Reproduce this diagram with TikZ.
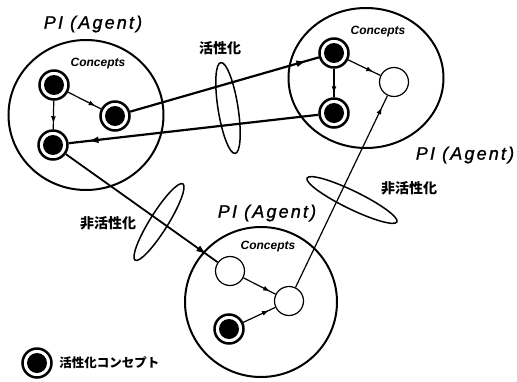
\documentclass[tikz,border=0pt]{standalone}
\usepackage{fontspec}
\setmainfont{Liberation Sans}
\newfontfamily\jpfont{Noto Sans CJK JP}
\newfontfamily\agentfont[LetterSpace=12,FakeBold=1.2]{Liberation Sans}
\usetikzlibrary{positioning}
\usetikzlibrary{arrows.meta}
\usetikzlibrary{decorations.markings}

\tikzset{
  actnode/.style={circle, draw, line width=2.5pt, minimum size=29pt, inner sep=0pt,
    path picture={\fill (path picture bounding box.center) circle (10pt);}},
  idlenode/.style={circle, draw, line width=1.2pt, minimum size=29pt, inner sep=0pt},
  agentlabel/.style={font=\agentfont\itshape\fontsize{18}{20}\selectfont},
  conceptlabel/.style={font=\bfseries\itshape\fontsize{12}{14}\selectfont},
  jplabel/.style={font=\jpfont\bfseries\fontsize{14}{16}\selectfont},
  tipat/.style={postaction={decorate}, decoration={markings,
    mark=at position #1 with {\arrow{Latex[length=7pt,width=5pt]}}}},
  bigtipat/.style={postaction={decorate}, decoration={markings,
    mark=at position #1 with {\arrow{Latex[length=10pt,width=7pt]}}}},
}

\begin{document}
\begin{tikzpicture}[x=1pt, y=-1pt]
    \useasboundingbox (0,0) rectangle (517,381);

    % Agents
    \draw[line width=2pt] (86,115) ellipse (77.5 and 75);
    \draw[line width=2pt] (366,78) ellipse (77.5 and 70);
    \draw[line width=2pt] (261,302) ellipse (76 and 75);
    \node[agentlabel] (leftname) at (93,24) {PI (Agent)};
    \node[agentlabel] (rightname) at (465,155) {PI (Agent)};
    \node[agentlabel] (bottomname) at (267,213) {PI (Agent)};
    \node[conceptlabel] (leftcon) at (98,64) {Concepts};
    \node[conceptlabel] (rightcon) at (378,32) {Concepts};
    \node[conceptlabel] (bottomcon) at (268,247) {Concepts};

    % Concepts of the left agent
    \node[actnode] (A1) at (54,85) {};
    \node[actnode] (A2) at (115,116) {};
    \node[actnode] (A3) at (53,145) {};
    \draw[line width=1.2pt, tipat=-6pt] (A1) -- (A2);
    \draw[line width=1.2pt, tipat=-6pt] (A1) -- (A3);

    % Concepts of the right agent
    \node[actnode] (B1) at (334,53) {};
    \node[actnode] (B2) at (334,113) {};
    \node[idlenode] (B3) at (394,82) {};
    \draw[line width=1.2pt, tipat=-8pt] (B1) -- (B3);
    \draw[line width=1.2pt, tipat=-4pt] (B1) -- (B2);

    % Concepts of the bottom agent
    \node[idlenode] (C1) at (230,271) {};
    \node[idlenode] (C2) at (289,301) {};
    \node[actnode] (C3) at (229,329) {};
    \draw[line width=1.2pt, tipat=-6pt] (C1) -- (C2);
    \draw[line width=1.2pt, tipat=-7pt] (C3) -- (C2);

    % Links between agents
    \draw[line width=2.2pt, bigtipat=-13pt] (A2) -- (B1);
    \draw[line width=2.2pt, bigtipat=-20pt] (B2) -- (A3);
    \draw[line width=1.8pt, bigtipat=-14pt] (A3) -- (C1);
    \draw[line width=1.2pt, tipat=-13pt] (C2) -- (B3);

    % Activation / deactivation
    \draw[line width=1.5pt, rotate around={9:(228,108)}] (228,108) ellipse (10 and 46);
    \draw[line width=1.5pt, rotate around={58:(159,222)}] (159,222) ellipse (45 and 9);
    \draw[line width=1.5pt, rotate around={-26:(352,200)}] (352,200) ellipse (50 and 9);
    \node[jplabel] (act) at (220,48) {活性化};
    \node[jplabel] (deactleft) at (108,223) {非活性化};
    \node[jplabel] (deactright) at (409,188) {非活性化};

    % Legend
    \node[actnode] (key) at (37,363) {};
    \node[jplabel, font=\jpfont\bfseries\fontsize{12.5}{14}\selectfont, right=3pt of key] (keytext) {活性化コンセプト};
\end{tikzpicture}
\end{document}
